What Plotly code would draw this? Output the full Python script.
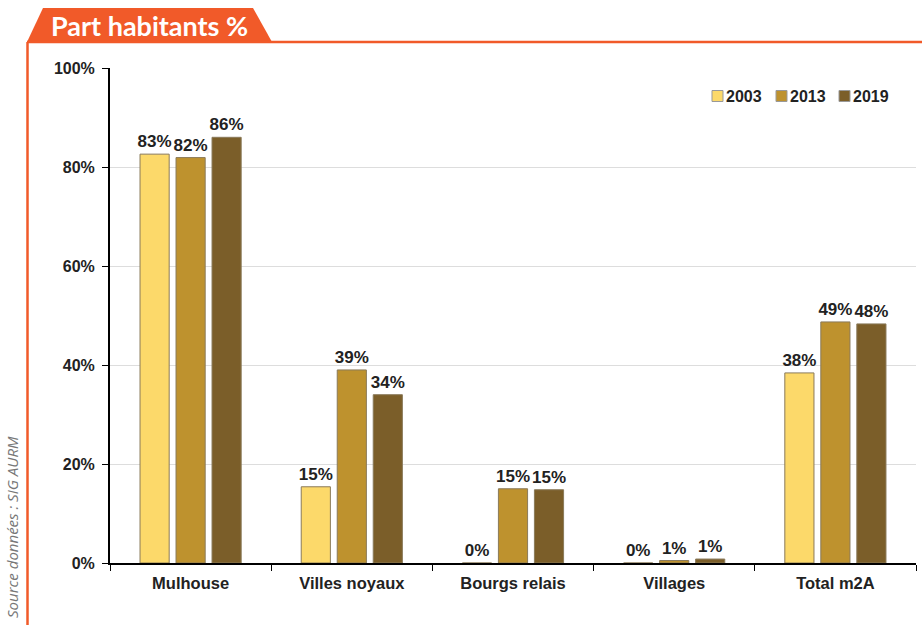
import plotly.graph_objects as go

categories = ["Mulhouse", "Villes noyaux", "Bourgs relais", "Villages", "Total m2A"]
years = ["2003", "2013", "2019"]
v2003 = [82.6, 15.4, 0.0, 0.0, 38.4]
v2013 = [81.9, 39.0, 15.0, 0.5, 48.7]
v2019 = [86.0, 34.0, 14.8, 0.8, 48.3]
colors = ["#FCD96A", "#BE922E", "#7B5E29"]
y_ticks = [0, 20, 40, 60, 80, 100]

W, H = 922, 625
L, R, T, B = 110, 6, 68, 62
pw, ph = W - L - R, H - T - B

def px(x):
    return (x - L) / pw

def py(y):
    return (H - B - y) / ph

fig = go.Figure()
for yr, vals, col in zip(years, [v2003, v2013, v2019], colors):
    fig.add_trace(go.Bar(
        x=categories, y=vals, name=yr,
        marker=dict(color=col, line=dict(color="#8a7a5a", width=1)),
        texttemplate="<b>%{y:.0f}%</b>", textposition="outside",
        textfont=dict(family="Liberation Sans", size=17, color="#222222"),
        constraintext="none", cliponaxis=False, showlegend=False,
    ))

fig.update_layout(
    width=W, height=H,
    margin=dict(l=L, r=R, t=T, b=B),
    paper_bgcolor="white", plot_bgcolor="white",
    barmode="group", bargap=0.33, bargroupgap=0.19,
    font=dict(family="Liberation Sans", color="#222222"),
    xaxis=dict(showline=True, linecolor="black", linewidth=2, ticks="outside",
               tickson="boundaries", ticklen=6, tickcolor="black",
               tickvals=categories, ticktext=["<b>%s</b>" % c for c in categories],
               tickfont=dict(family="Liberation Sans", size=16.5, color="#222222"),
               ticklabelstandoff=4, showgrid=False),
    yaxis=dict(range=[0, 100], tickvals=y_ticks, ticktext=["<b>%d%%</b>" % t for t in y_ticks],
               showline=True, linecolor="black", linewidth=2, ticks="outside", ticklen=6,
               tickcolor="black", gridcolor="#dddddd", gridwidth=1, zeroline=False,
               ticklabelstandoff=4,
               tickfont=dict(family="Liberation Sans", size=16, color="#222222")),
    showlegend=False,
)

# manual compact legend (top right)
leg_x = [712, 776, 839]
leg_y = 96
for yr, col, lx in zip(years, colors, leg_x):
    fig.add_shape(type="rect", xref="paper", yref="paper",
                  x0=px(lx), x1=px(lx + 11), y0=py(leg_y + 5.5), y1=py(leg_y - 5.5),
                  fillcolor=col, line=dict(color="#999999", width=1))
    fig.add_annotation(xref="paper", yref="paper", x=px(lx + 12), y=py(leg_y),
                       text="<b>%s</b>" % yr, showarrow=False,
                       xanchor="left", yanchor="middle",
                       font=dict(family="Liberation Sans", size=16, color="#222222"))

orange = "#F15A29"
path = "M %f %f L %f %f L %f %f L %f %f Z" % (
    px(27), py(42), px(43), py(8), px(253), py(8), px(272), py(42))
fig.add_shape(type="path", path=path, xref="paper", yref="paper",
              fillcolor=orange, line=dict(width=0), layer="above")
fig.add_shape(type="line", xref="paper", yref="paper", x0=px(27), x1=px(922),
              y0=py(42), y1=py(42), line=dict(color=orange, width=2.5))
fig.add_shape(type="line", xref="paper", yref="paper", x0=px(27.5), x1=px(27.5),
              y0=py(42), y1=py(630), line=dict(color=orange, width=2.5))
fig.add_annotation(xref="paper", yref="paper", x=px(149), y=py(25),
                   text="<b>Part habitants %</b>", showarrow=False,
                   font=dict(family="Lato", size=27, color="white"),
                   xanchor="center", yanchor="middle")
fig.add_annotation(xref="paper", yref="paper", x=px(12), y=py(527),
                   text="<i>Source données : SIG AURM</i>", showarrow=False,
                   textangle=-90, font=dict(family="Open Sans", size=15, color="#777777"),
                   xanchor="center", yanchor="middle")

fig.write_html("out.html", config={"displayModeBar": False})
with open("out.html", "r", encoding="utf-8") as f:
    html = f.read()
html = html.replace("<head>", "<head><style>html,body{margin:0;padding:0;overflow:hidden}</style>", 1)
with open("out.html", "w", encoding="utf-8") as f:
    f.write(html)
